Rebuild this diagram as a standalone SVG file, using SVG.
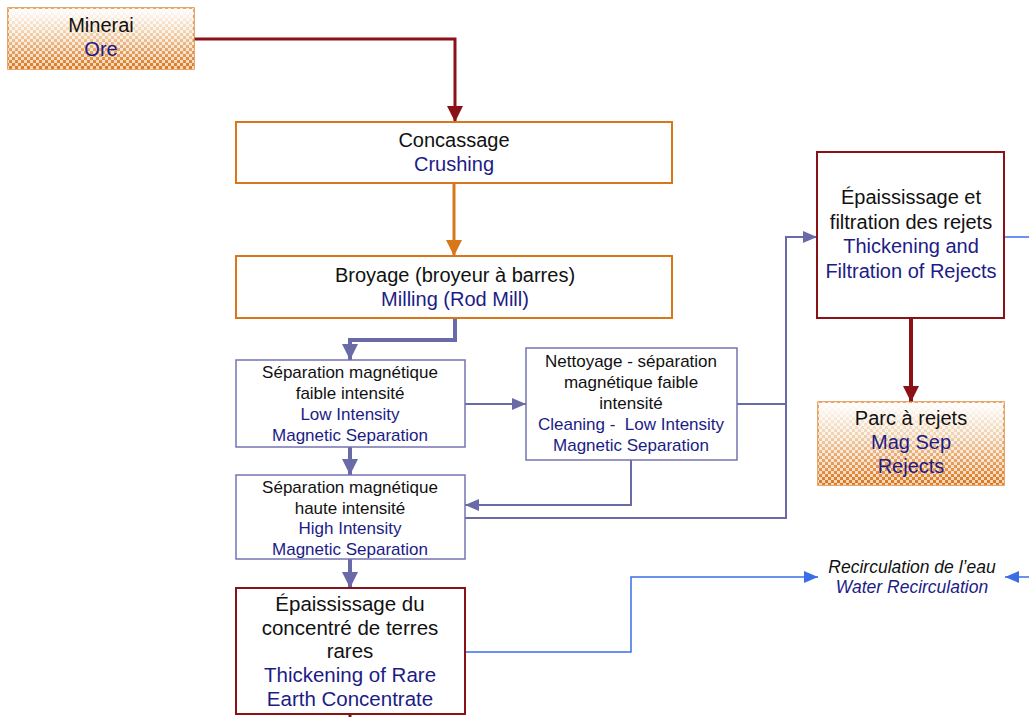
<svg xmlns="http://www.w3.org/2000/svg" width="1029" height="717" viewBox="0 0 1029 717">
<style>
text{font-family:"Liberation Sans",Arial,sans-serif;text-anchor:middle}
.k{fill:#111}
.b{fill:#1c1c86}
.f20{font-size:20px}
.f205{font-size:20.5px}
.f17{font-size:17px}
.it{font-style:italic;font-size:17.5px}
.bx{fill:#fff}
.or{stroke:#d8761a;stroke-width:2}
.pu{stroke:#7474b4;stroke-width:1.5}
.dr{stroke:#8a1216;stroke-width:2}
.c{fill:none}
</style>
<defs>
<linearGradient id="g" x1="0" y1="0" x2="0" y2="1">
<stop offset="0" stop-color="#ffffff"/>
<stop offset="0.4" stop-color="#f0d2b0"/>
<stop offset="1" stop-color="#dc7418"/>
</linearGradient>
<pattern id="chk" width="6" height="6" patternUnits="userSpaceOnUse">
<rect width="3" height="3" fill="#fff" fill-opacity="0.7"/>
<rect x="3" y="3" width="3" height="3" fill="#fff" fill-opacity="0.7"/>
</pattern>
<marker id="aDR" markerUnits="userSpaceOnUse" markerWidth="16" markerHeight="16" refX="16" refY="8" orient="auto"><path d="M0,0 L16,8 L0,16 z" fill="#8a1216"/></marker>
<marker id="aOR" markerUnits="userSpaceOnUse" markerWidth="16" markerHeight="16" refX="16" refY="8" orient="auto"><path d="M0,0 L16,8 L0,16 z" fill="#d8761a"/></marker>
<marker id="aPU" markerUnits="userSpaceOnUse" markerWidth="16" markerHeight="16" refX="16" refY="8" orient="auto"><path d="M0,0 L16,8 L0,16 z" fill="#6a6aa8"/></marker>
<marker id="aPS" markerUnits="userSpaceOnUse" markerWidth="14" markerHeight="12" refX="14" refY="6" orient="auto"><path d="M0,0 L14,6 L0,12 z" fill="#6a6aa8"/></marker>
<marker id="aBL" markerUnits="userSpaceOnUse" markerWidth="14" markerHeight="12" refX="14" refY="6" orient="auto"><path d="M0,0 L14,6 L0,12 z" fill="#3a6ee8"/></marker>
</defs>
<g id="connectors" class="c">
<path d="M194,39 H455 V122" stroke="#8a1216" stroke-width="3" marker-end="url(#aDR)"/>
<path d="M454,183 V256" stroke="#d8761a" stroke-width="3" marker-end="url(#aOR)"/>
<path d="M455,318 V340 H350 V360" stroke="#6a6aa8" stroke-width="4" marker-end="url(#aPU)"/>
<path d="M350,447 V475" stroke="#6a6aa8" stroke-width="4" marker-end="url(#aPU)"/>
<path d="M350,559 V588" stroke="#6a6aa8" stroke-width="4" marker-end="url(#aPU)"/>
<path d="M465,404 H526" stroke="#6a6aa8" stroke-width="2" marker-end="url(#aPS)"/>
<path d="M631,460 V505 H465" stroke="#6a6aa8" stroke-width="2" marker-end="url(#aPS)"/>
<path d="M465,518 H786 V237 H817" stroke="#6a6aa8" stroke-width="2" marker-end="url(#aPS)"/>
<path d="M737,404 H786" stroke="#6a6aa8" stroke-width="2"/>
<path d="M1004,237 H1029" stroke="#3a6ee8" stroke-width="1.5"/>
<path d="M911,318 V402" stroke="#8a1216" stroke-width="4" marker-end="url(#aDR)"/>
<path d="M465,652 H631 V577 H818" stroke="#3a6ee8" stroke-width="1.5" marker-end="url(#aBL)"/>
<path d="M1029,577 H1005" stroke="#3a6ee8" stroke-width="1.5" marker-end="url(#aBL)"/>
<path d="M350,714 V717" stroke="#8a1216" stroke-width="3"/>
</g>
<g id="ore">
<rect x="8" y="8" width="186" height="61" fill="url(#g)" stroke="#e08a3a" stroke-width="1.5"/>
<rect x="8" y="8" width="186" height="61" fill="url(#chk)"/>
<text x="101" y="32" class="k f20">Minerai</text>
<text x="101" y="56" class="b f20">Ore</text>
</g>
<g id="crushing">
<rect x="236" y="122" width="436" height="61" class="bx or"/>
<text x="454" y="147" class="k f20">Concassage</text>
<text x="454" y="171" class="b f20">Crushing</text>
</g>
<g id="milling">
<rect x="236" y="256" width="436" height="62" class="bx or"/>
<text x="455" y="282" class="k f20">Broyage (broyeur à barres)</text>
<text x="455" y="306" class="b f20">Milling (Rod Mill)</text>
</g>
<g id="lims">
<rect x="236" y="360" width="229" height="87" class="bx pu"/>
<text x="350" y="378" class="k f17">Séparation magnétique</text>
<text x="350" y="399" class="k f17">faible intensité</text>
<text x="350" y="420" class="b f17">Low Intensity</text>
<text x="350" y="441" class="b f17">Magnetic Separation</text>
</g>
<g id="cleaning">
<rect x="526" y="348" width="211" height="112" class="bx pu"/>
<text x="631" y="367" class="k f17">Nettoyage - séparation</text>
<text x="631" y="388" class="k f17">magnétique faible</text>
<text x="631" y="409" class="k f17">intensité</text>
<text x="631" y="430" class="b f17" xml:space="preserve">Cleaning -  Low Intensity</text>
<text x="631" y="451" class="b f17">Magnetic Separation</text>
</g>
<g id="hims">
<rect x="236" y="475" width="229" height="84" class="bx pu"/>
<text x="350" y="493" class="k f17">Séparation magnétique</text>
<text x="350" y="514" class="k f17">haute intensité</text>
<text x="350" y="534" class="b f17">High Intensity</text>
<text x="350" y="555" class="b f17">Magnetic Separation</text>
</g>
<g id="rejects-thickening">
<rect x="817" y="152" width="187" height="166" class="bx dr"/>
<text x="911" y="204" class="k f20">Épaississage et</text>
<text x="911" y="229" class="k f20">filtration des rejets</text>
<text x="911" y="253" class="b f20">Thickening and</text>
<text x="911" y="278" class="b f20">Filtration of Rejects</text>
</g>
<g id="tailings">
<rect x="818" y="402" width="186" height="83" fill="url(#g)" stroke="#e08a3a" stroke-width="1.5"/>
<rect x="818" y="402" width="186" height="83" fill="url(#chk)"/>
<text x="911" y="425" class="k f20">Parc à rejets</text>
<text x="911" y="449" class="b f20">Mag Sep</text>
<text x="911" y="473" class="b f20">Rejects</text>
</g>
<g id="concentrate">
<rect x="236" y="588" width="229" height="126" class="bx dr"/>
<text x="350" y="611" class="k f205">Épaississage du</text>
<text x="350" y="635" class="k f205">concentré de terres</text>
<text x="350" y="658" class="k f205">rares</text>
<text x="350" y="682" class="b f205">Thickening of Rare</text>
<text x="350" y="706" class="b f205">Earth Concentrate</text>
</g>
<g id="water-recirculation">
<text x="912" y="573" class="k it">Recirculation de l’eau</text>
<text x="912" y="593" class="b it">Water Recirculation</text>
</g>
</svg>
